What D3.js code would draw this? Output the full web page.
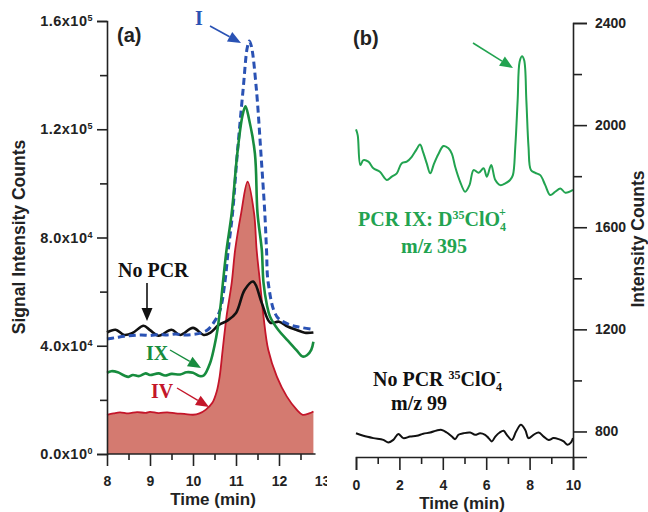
<!DOCTYPE html>
<html>
<head>
<meta charset="utf-8">
<script src="https://cdn.jsdelivr.net/npm/d3@7"></script>
<style>
body { margin: 0; background: #fff; }
svg text { font-family: "Liberation Sans", Arial, sans-serif; font-weight: bold; }
.serif { font-family: "Liberation Serif", "Times New Roman", serif !important; }
</style>
</head>
<body>
<div id="chart"></div>
<script>
// ---- data, panel (a): time (min) and signal intensity counts ----
const tNoPcr = [8.0, 8.2, 8.4, 8.6, 8.85, 9.0, 9.2, 9.5, 9.7, 10.0, 10.25, 10.4, 10.6, 10.8, 11.0, 11.2, 11.4, 11.6, 11.8, 12.0, 12.2, 12.4, 12.6, 12.8];
const vNoPcr = [44900, 45900, 44000, 44800, 47400, 45800, 43700, 45900, 44000, 46600, 44000, 44800, 47700, 49300, 52100, 60600, 63700, 55800, 48500, 48900, 47100, 45900, 44800, 44900];

const tI = [8.0, 8.2, 8.4, 8.6, 8.8, 9.0, 9.2, 9.4, 9.6, 9.8, 10.0, 10.2, 10.35, 10.5, 10.63, 10.74, 10.82, 10.92, 11.03, 11.17, 11.26, 11.31, 11.36, 11.47, 11.58, 11.67, 11.71, 11.75, 11.95, 12.26, 12.5, 12.8];
const vI = [42500, 43000, 43500, 43800, 44000, 43800, 44200, 44000, 44300, 44000, 44200, 44800, 46000, 49000, 53200, 63200, 75400, 89000, 111000, 135500, 150000, 152600, 150500, 135500, 111000, 89000, 75400, 63200, 50800, 47700, 46800, 46000];

const tIX = [8.0, 8.1, 8.25, 8.4, 8.5, 8.6, 8.75, 8.9, 9.0, 9.2, 9.35, 9.5, 9.7, 9.85, 10.0, 10.15, 10.25, 10.4, 10.5, 10.57, 10.65, 10.7, 10.78, 10.9, 11.03, 11.15, 11.22, 11.3, 11.44, 11.5, 11.6, 11.64, 11.72, 11.79, 11.98, 12.2, 12.4, 12.55, 12.65, 12.75, 12.8];
const vIX = [30000, 30600, 30200, 29000, 28500, 29200, 28800, 29800, 29200, 29800, 29000, 29600, 29400, 30200, 30000, 28800, 29000, 33700, 40000, 46000, 56000, 64000, 75400, 89000, 111000, 125000, 128500, 124000, 111000, 89000, 75400, 63200, 55000, 50800, 45900, 42000, 38500, 36000, 36500, 38500, 41500];

const tIV = [8.0, 8.15, 8.3, 8.5, 8.7, 8.9, 9.0, 9.2, 9.4, 9.6, 9.8, 10.0, 10.15, 10.3, 10.45, 10.55, 10.62, 10.69, 10.78, 10.9, 10.98, 11.12, 11.27, 11.42, 11.48, 11.56, 11.64, 11.75, 11.95, 12.18, 12.41, 12.55, 12.7, 12.8];
const vIV = [14500, 15000, 15400, 15000, 15500, 15200, 15600, 15100, 15400, 15000, 14800, 14500, 15000, 16400, 18900, 23000, 28600, 38500, 50800, 63200, 75400, 89000, 100600, 89000, 75400, 63200, 50800, 38500, 28600, 21300, 16400, 14500, 15000, 15700];

const yTicksA = [0, 40000, 80000, 120000, 160000];
const yTickLabelsA = [["0.0x10", "0"], ["4.0x10", "4"], ["8.0x10", "4"], ["1.2x10", "5"], ["1.6x10", "5"]];
const xTicksA = [8, 9, 10, 11, 12, 13];

// ---- data, panel (b): time (min) and intensity counts ----
const tPcr = [0, 0.08, 0.2, 0.34, 0.57, 0.8, 1.1, 1.42, 1.65, 1.88, 2.1, 2.34, 2.57, 2.77, 2.95, 3.1, 3.26, 3.42, 3.6, 3.8, 4.03, 4.26, 4.42, 4.57, 4.8, 5.03, 5.23, 5.42, 5.65, 5.88, 6.03, 6.23, 6.42, 6.65, 6.88, 7.1, 7.23, 7.34, 7.45, 7.54, 7.65, 7.75, 7.85, 7.95, 8.06, 8.26, 8.49, 8.72, 8.95, 9.18, 9.42, 9.65, 10];
const vPcr = [1983, 1960, 1844, 1863, 1857, 1831, 1817, 1785, 1798, 1811, 1850, 1857, 1876, 1902, 1924, 1892, 1850, 1811, 1850, 1887, 1918, 1909, 1887, 1837, 1778, 1739, 1765, 1824, 1813, 1831, 1798, 1844, 1785, 1765, 1772, 1785, 1804, 1915, 2098, 2248, 2270, 2254, 2098, 1915, 1824, 1813, 1804, 1765, 1726, 1739, 1752, 1735, 1746];

const tNo99 = [0, 0.34, 0.8, 1.26, 1.49, 1.72, 1.95, 2.18, 2.49, 2.8, 3.1, 3.42, 3.72, 3.95, 4.18, 4.42, 4.57, 4.72, 4.95, 5.26, 5.49, 5.72, 5.95, 6.11, 6.26, 6.42, 6.62, 6.8, 6.95, 7.18, 7.38, 7.6, 7.8, 7.95, 8.18, 8.42, 8.65, 8.88, 9.1, 9.34, 9.57, 9.75, 9.91, 10];
const vNo99 = [793, 783, 774, 767, 757, 767, 790, 774, 780, 783, 791, 796, 804, 806, 796, 780, 770, 787, 793, 796, 787, 793, 787, 774, 761, 780, 796, 803, 787, 767, 800, 826, 806, 774, 787, 796, 780, 767, 774, 770, 761, 748, 757, 774];

const yTicksB = [800, 1200, 1600, 2000, 2400];
const xTicksB = [0, 2, 4, 6, 8, 10];

const svg = d3.select("#chart").append("svg")
  .attr("width", 648)
  .attr("height", 512);

// scales
const xA = d3.scaleLinear().domain([8, 13]).range([107, 322]);
const yA = d3.scaleLinear().domain([0, 160000]).range([454, 21]);
const xB = d3.scaleLinear().domain([0, 10]).range([356, 573]);
const yB = d3.scaleLinear().domain([700, 2400]).range([457, 23]);

const zip = (ts, vs) => ts.map((t, i) => ({ t: t, v: vs[i] }));

// clip for panel (a), the "13" label gets cut by panel (b)
svg.append("clipPath").attr("id", "clipA")
  .append("rect").attr("x", 0).attr("y", 0).attr("width", 327).attr("height", 512);

const gA = svg.append("g").attr("clip-path", "url(#clipA)");

// ---- panel (a) curves ----
const lineA = d3.line().x(d => xA(d.t)).y(d => yA(d.v)).curve(d3.curveCatmullRom);
const areaA = d3.area().x(d => xA(d.t)).y0(yA(0)).y1(d => yA(d.v)).curve(d3.curveCatmullRom);

gA.append("path").datum(zip(tIV, vIV))
  .attr("d", areaA)
  .attr("fill", "#d47a70");
gA.append("path").datum(zip(tIV, vIV))
  .attr("d", lineA)
  .attr("fill", "none")
  .attr("stroke", "#c4162a")
  .attr("stroke-width", 1.8);

gA.append("path").datum(zip(tNoPcr, vNoPcr))
  .attr("d", lineA)
  .attr("fill", "none")
  .attr("stroke", "#111")
  .attr("stroke-width", 2.6);

gA.append("path").datum(zip(tI, vI))
  .attr("d", lineA)
  .attr("fill", "none")
  .attr("stroke", "#2a52b4")
  .attr("stroke-width", 3)
  .attr("stroke-dasharray", "7,4");

gA.append("path").datum(zip(tIX, vIX))
  .attr("d", lineA)
  .attr("fill", "none")
  .attr("stroke", "#178c3e")
  .attr("stroke-width", 2.6);

// ---- panel (a) axes ----
const yAxisA = gA.append("g")
  .attr("transform", `translate(${xA(8)},0)`)
  .call(d3.axisLeft(yA).tickValues(yTicksA).tickSize(10).tickPadding(4).tickFormat(""));
yAxisA.append("g")
  .call(d3.axisLeft(yA).tickValues([20000, 60000, 100000, 140000]).tickSize(7).tickFormat(""))
  .select(".domain").remove();
yAxisA.selectAll(".tick text")
  .data(yTickLabelsA)
  .attr("x", -14)
  .style("font-size", "14.5px")
  .style("letter-spacing", "0.5px")
  .text(d => d[0])
  .append("tspan")
  .attr("dy", "-0.55em")
  .style("font-size", "9px")
  .text(d => d[1]);

const xAxisA = gA.append("g")
  .attr("transform", `translate(0,${yA(0)})`)
  .call(d3.axisBottom(xA).tickValues(xTicksA).tickSize(12).tickPadding(10).tickFormat(d3.format("d")));
xAxisA.select(".domain").attr("d", `M${xA(8)},0H${xA(12.85)}`);
xAxisA.selectAll(".tick").filter(d => d === 13).select("line").remove();
xAxisA.append("g")
  .call(d3.axisBottom(xA).tickValues([8.5, 9.5, 10.5, 11.5, 12.5]).tickSize(6).tickFormat(""))
  .select(".domain").remove();
xAxisA.selectAll(".tick text").style("font-size", "14px");

[yAxisA, xAxisA].forEach(g => {
  g.selectAll("line, path").attr("stroke", "#222").attr("stroke-width", 1.6);
  g.selectAll("text").attr("fill", "#222");
});

gA.append("text")
  .attr("x", 213).attr("y", 505)
  .attr("text-anchor", "middle")
  .style("font-size", "17px")
  .attr("fill", "#222")
  .text("Time (min)");

gA.append("text")
  .attr("transform", "translate(25,237) rotate(-90)")
  .attr("text-anchor", "middle")
  .style("font-size", "17.5px")
  .attr("fill", "#222")
  .text("Signal Intensity Counts");

// ---- panel (b) curves ----
const lineB = d3.line().x(d => xB(d.t)).y(d => yB(d.v)).curve(d3.curveCatmullRom);

svg.append("path").datum(zip(tPcr, vPcr))
  .attr("d", lineB)
  .attr("fill", "none")
  .attr("stroke", "#22a350")
  .attr("stroke-width", 2);

svg.append("path").datum(zip(tNo99, vNo99))
  .attr("d", lineB)
  .attr("fill", "none")
  .attr("stroke", "#111")
  .attr("stroke-width", 2);

// ---- panel (b) axes ----
const yAxisB = svg.append("g")
  .attr("transform", `translate(${xB(10)},0)`)
  .call(d3.axisRight(yB).tickValues(yTicksB).tickSize(14).tickPadding(8).tickFormat(d3.format("d")));
yAxisB.append("g")
  .call(d3.axisRight(yB).tickValues([1000, 1400, 1800, 2200]).tickSize(9).tickFormat(""))
  .select(".domain").remove();
yAxisB.selectAll(".tick text").style("font-size", "14px");

const xAxisB = svg.append("g")
  .attr("transform", `translate(0,${yB(700)})`)
  .call(d3.axisBottom(xB).tickValues(xTicksB).tickSize(13).tickPadding(10).tickFormat(d3.format("d")));
xAxisB.append("g")
  .call(d3.axisBottom(xB).tickValues([1, 3, 5, 7, 9]).tickSize(7).tickFormat(""))
  .select(".domain").remove();
xAxisB.selectAll(".tick text").style("font-size", "14px");

[yAxisB, xAxisB].forEach(g => {
  g.selectAll("line, path").attr("stroke", "#222").attr("stroke-width", 1.6);
  g.selectAll("text").attr("fill", "#222");
});

svg.append("text")
  .attr("x", 462).attr("y", 509)
  .attr("text-anchor", "middle")
  .style("font-size", "17px")
  .attr("fill", "#222")
  .text("Time (min)");

svg.append("text")
  .attr("transform", "translate(644,239) rotate(-90)")
  .attr("text-anchor", "middle")
  .style("font-size", "17.5px")
  .attr("fill", "#222")
  .text("Intensity Counts");

// ---- annotations ----
function arrow(x1, y1, x2, y2, color, w) {
  const a = Math.atan2(y2 - y1, x2 - x1);
  const L = 13, H = 5.5;
  const bx = x2 - L * Math.cos(a), by = y2 - L * Math.sin(a);
  svg.append("line")
    .attr("x1", x1).attr("y1", y1).attr("x2", bx).attr("y2", by)
    .attr("stroke", color).attr("stroke-width", w || 1.5);
  const pts = [
    [x2, y2],
    [bx + H * Math.sin(a), by - H * Math.cos(a)],
    [bx - H * Math.sin(a), by + H * Math.cos(a)]
  ];
  svg.append("polygon").attr("points", pts.map(p => p.join(",")).join(" ")).attr("fill", color);
}

function label(x, y, txt, color, size, serif) {
  return svg.append("text")
    .attr("x", x).attr("y", y)
    .attr("class", serif ? "serif" : null)
    .style("font-size", size + "px")
    .attr("fill", color)
    .text(txt);
}

label(117, 42, "(a)", "#222", 20, false);
label(353, 45, "(b)", "#222", 20, false);

label(195, 25, "I", "#2a52b4", 20, true);
arrow(210, 26, 241, 43, "#2a52b4", 1.6);

label(118, 277, "No PCR", "#111", 20, true);
arrow(147, 283, 147, 321, "#111", 1.6);

label(146, 360, "IX", "#178c3e", 20, true);
arrow(170, 350, 201, 368, "#178c3e", 1.4);

label(151, 398, "IV", "#c4162a", 20, true);
arrow(177, 388, 209, 407, "#c4162a", 1.4);

arrow(473, 43, 513, 68, "#22a350", 1.6);

// PCR IX: D35ClO4+  /  m/z 395
const t1 = label(358, 226, "PCR IX: D", "#22a350", 20, true);
t1.append("tspan").attr("dy", -7).style("font-size", "12px").text("35");
t1.append("tspan").attr("dy", 7).text("ClO");
t1.append("tspan").attr("dy", 5).style("font-size", "12px").text("4");
t1.append("tspan").attr("dx", -7).attr("dy", -15).style("font-size", "12px").text("+");
label(401, 253, "m/z 395", "#22a350", 20, true);

// No PCR 35ClO4-  /  m/z 99
const t2 = label(373, 386, "No PCR ", "#111", 20, true);
t2.append("tspan").attr("dy", -7).style("font-size", "12px").text("35");
t2.append("tspan").attr("dy", 7).text("ClO");
t2.append("tspan").attr("dy", 5).style("font-size", "12px").text("4");
t2.append("tspan").attr("dx", -6).attr("dy", -15).style("font-size", "13px").text("-");
label(391, 410, "m/z 99", "#111", 20, true);
</script>
</body>
</html>
